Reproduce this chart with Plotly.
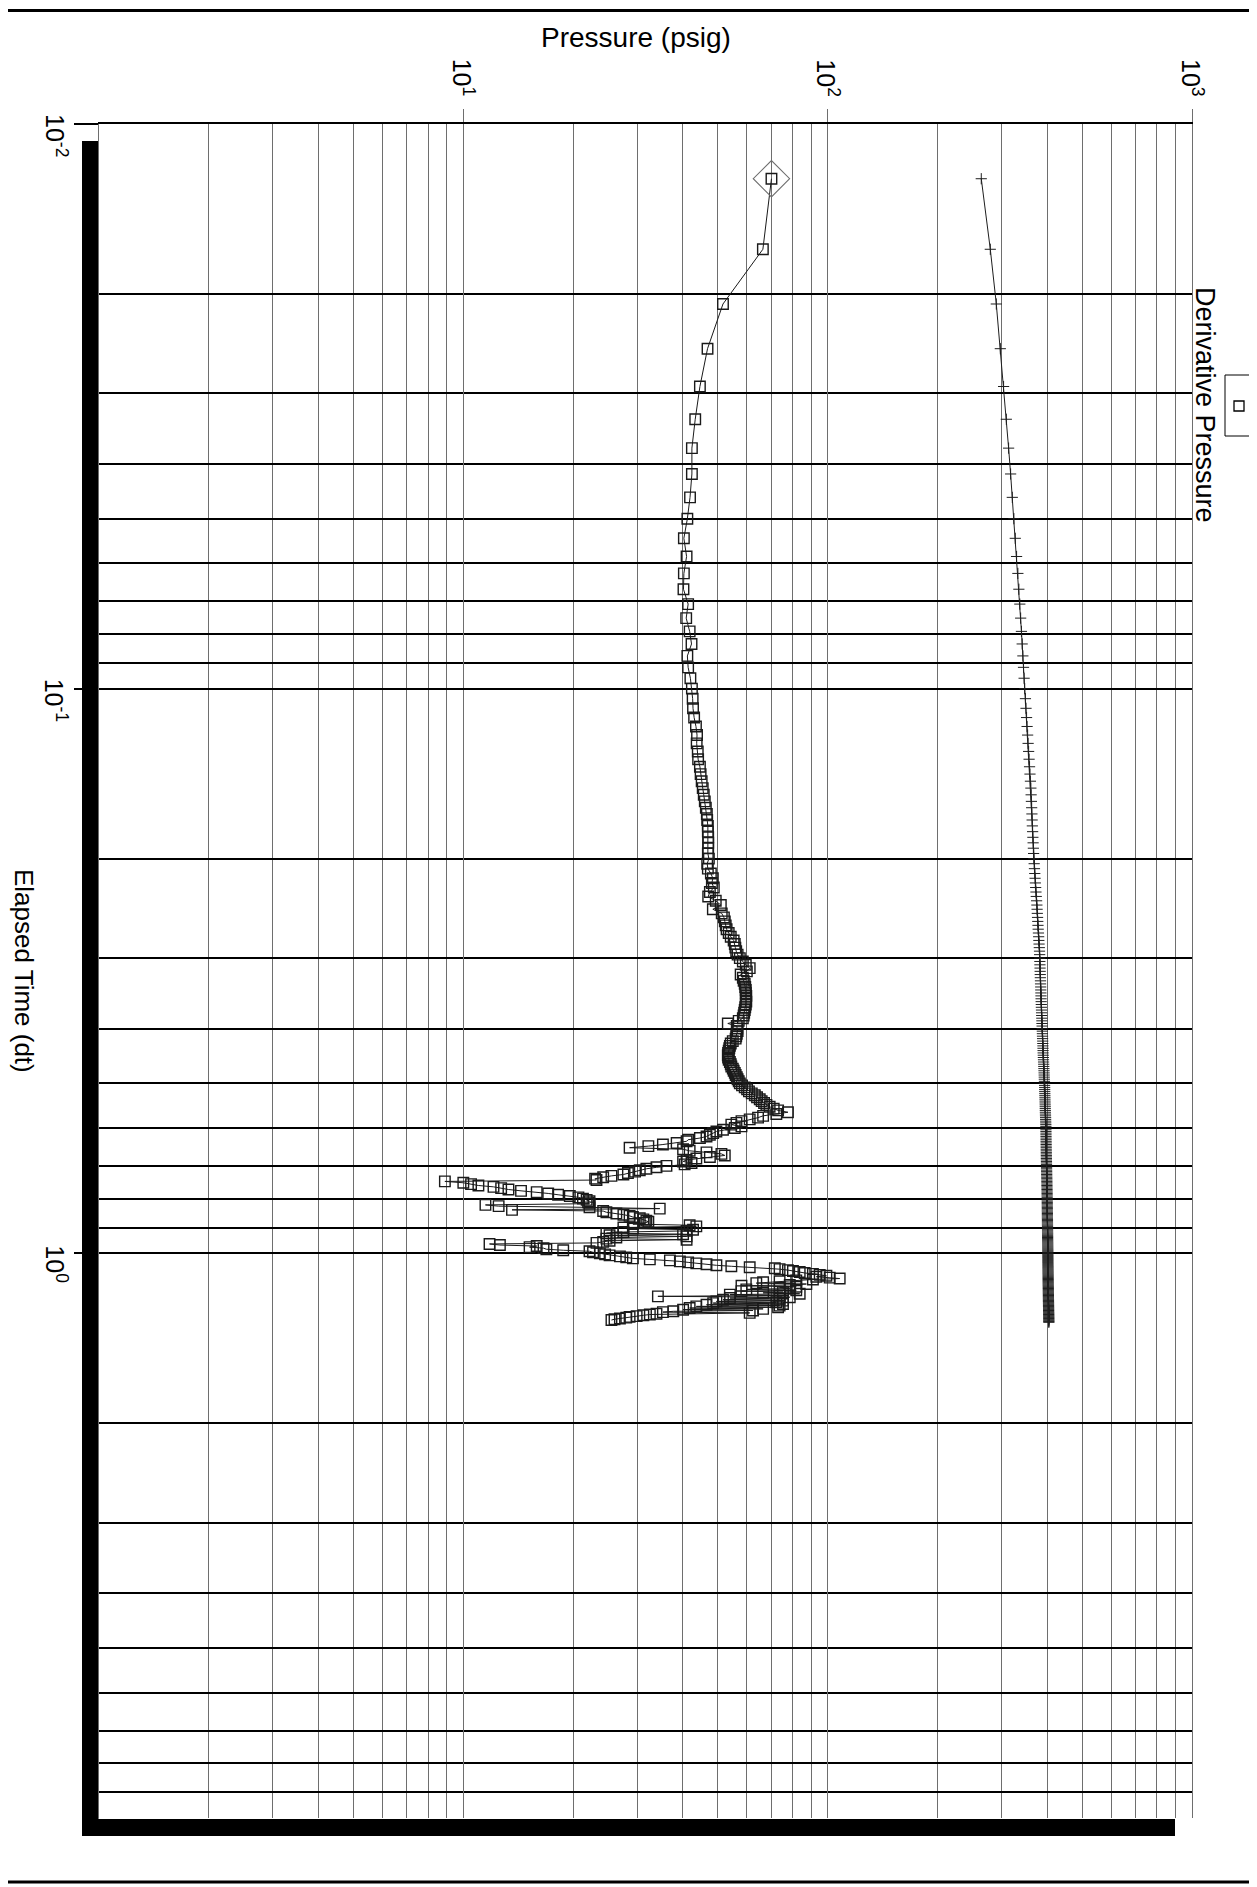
import math
import plotly.graph_objects as go

# ---------------- data ----------------
# elapsed time of each sample, in seconds
elapsed_s = [
    45, 60, 75, 90, 105, 120, 135, 150, 165, 180, 195, 210, 225, 240, 255, 270, 285, 300, 315, 330,
    345, 360, 375, 390, 405, 420, 435, 450, 465, 480, 495, 510, 525, 540, 555, 570, 585, 600, 615, 630,
    645, 660, 675, 690, 705, 720, 735, 750, 765, 780, 795, 810, 825, 840, 855, 870, 885, 900, 915, 930,
    945, 960, 975, 990, 1005, 1020, 1035, 1050, 1065, 1080, 1095, 1110, 1125, 1140, 1155, 1170, 1185, 1200, 1215, 1230,
    1245, 1260, 1275, 1290, 1305, 1320, 1335, 1350, 1365, 1380, 1395, 1410, 1425, 1440, 1455, 1470, 1485, 1500, 1515, 1530,
    1545, 1560, 1575, 1590, 1605, 1620, 1635, 1650, 1665, 1680, 1695, 1710, 1725, 1740, 1755, 1770, 1785, 1800, 1815, 1830,
    1845, 1860, 1875, 1890, 1905, 1920, 1935, 1950, 1965, 1980, 1995, 2010, 2025, 2040, 2055, 2070, 2085, 2100, 2115, 2130,
    2145, 2160, 2175, 2190, 2205, 2220, 2235, 2250, 2265, 2280, 2295, 2310, 2325, 2340, 2355, 2370, 2385, 2400, 2415, 2430,
    2445, 2460, 2475, 2490, 2505, 2520, 2535, 2550, 2565, 2580, 2595, 2610, 2625, 2640, 2655, 2670, 2685, 2700, 2715, 2730,
    2745, 2760, 2775, 2790, 2805, 2820, 2835, 2850, 2865, 2880, 2895, 2910, 2925, 2940, 2955, 2970, 2985, 3000, 3015, 3030,
    3045, 3060, 3075, 3090, 3105, 3120, 3135, 3150, 3165, 3180, 3195, 3210, 3225, 3240, 3255, 3270, 3285, 3300, 3315, 3330,
    3345, 3360, 3375, 3390, 3405, 3420, 3435, 3450, 3465, 3480, 3495, 3510, 3525, 3540, 3555, 3570, 3585, 3600, 3615, 3630,
    3645, 3660, 3675, 3690, 3705, 3720, 3735, 3750, 3765, 3780, 3795, 3810, 3825, 3840, 3855, 3870, 3885, 3900, 3915, 3930,
    3945, 3960, 3975, 3990, 4005, 4020, 4035, 4050, 4065, 4080, 4095, 4110, 4125, 4140, 4155, 4170, 4185, 4200, 4215, 4230,
    4245, 4260, 4275, 4290, 4305, 4320, 4335, 4350, 4365, 4380, 4395, 4410, 4425, 4440, 4455, 4470, 4485, 4500, 4515, 4530,
    4545, 4560, 4575, 4590, 4605, 4620, 4635, 4650, 4665, 4680, 4695, 4710, 4725, 4740, 4755, 4770,
]

# derivative (psi), one value per sample from the start
derivative_psi = [
    70.1, 66.4, 51.6, 46.8, 44.6, 43.3, 42.4, 42.4, 41.9, 41.2, 40.3, 41.0, 40.3, 40.2, 41.4, 40.9, 41.8, 42.3, 41.2, 41.4,
    42.0, 42.4, 42.6, 42.7, 43.0, 43.5, 43.8, 43.7, 44.0, 44.1, 44.6, 44.8, 45.1, 45.4, 45.7, 46.0, 46.3, 46.6, 46.7, 46.9,
    46.9, 47.0, 47.0, 47.0, 46.9, 47.2, 46.7, 46.9, 47.8, 48.4, 48.1, 48.7, 47.5, 47.0, 49.3, 50.9, 48.4, 51.2, 51.9, 52.2,
    52.5, 52.8, 53.5, 54.2, 55.2, 55.6, 55.8, 56.1, 56.6, 57.4, 58.5, 59.6, 61.1, 60.0, 57.7, 58.5, 58.8, 59.2, 59.4, 59.6,
    59.6, 59.8, 59.6, 59.8, 59.6, 59.4, 59.2, 59.0, 58.8, 58.5, 57.0, 53.2, 56.3, 56.5, 56.6, 56.3, 56.1, 55.9, 54.9, 54.2,
    53.9, 53.7, 53.5, 53.3, 53.2, 53.3, 53.5, 53.9, 54.2, 54.4, 54.9, 55.2, 55.6, 55.9, 56.3, 56.6, 57.0, 57.4, 58.2, 59.2,
    60.1, 60.8, 61.9, 63.1, 64.0, 65.1, 65.9, 66.9, 67.9, 69.3, 71.1, 73.1, 77.8, 72.3, 66.5, 64.4, 61.1, 58.0, 56.2, 54.4,
    58.0, 55.6, 51.6, 49.5, 48.5, 47.5, 46.5, 44.6, 41.4, 41.0, 38.5, 35.3, 32.2, 28.6, 40.1, 41.8, 46.5, 51.1, 52.2, 47.5,
    43.6, 41.0, 40.1, 42.3, 40.5, 36.1, 33.9, 31.8, 30.5, 29.6, 28.3, 27.5, 25.5, 24.2, 23.0, 23.2, 8.9, 10.0, 10.5, 11.0,
    12.1, 12.7, 13.3, 14.4, 15.9, 17.1, 18.2, 19.6, 20.7, 21.3, 21.8, 22.2, 22.0, 22.2, 11.5, 12.5, 22.2, 34.6, 13.6, 24.2,
    24.7, 26.3, 27.5, 28.6, 29.2, 30.5, 31.2, 31.8, 32.2, 31.5, 29.2, 41.8, 43.6, 27.5, 29.2, 42.7, 41.0, 27.5, 24.7, 40.1,
    25.2, 41.0, 26.3, 24.7, 41.0, 25.2, 24.2, 23.2, 11.8, 12.6, 15.9, 15.2, 16.6, 16.9, 18.8, 22.2, 22.7, 23.7, 24.5, 25.2,
    26.9, 28.0, 29.2, 32.5, 36.9, 39.3, 41.4, 43.6, 46.5, 49.5, 54.4, 61.1, 71.6, 73.8, 77.8, 80.3, 83.8, 86.5, 91.1, 95.1,
    99.2, 93.1, 101.3, 107.9, 91.1, 82.0, 73.8, 66.5, 63.7, 87.4, 78.7, 58.0, 82.0, 73.8, 78.7, 59.8, 82.0, 58.0, 75.4, 66.5,
    83.8, 53.9, 73.8, 34.2, 78.7, 53.9, 73.8, 51.6, 75.4, 49.5, 72.3, 48.5, 75.4, 46.5, 73.8, 43.6, 73.1, 41.8, 66.5, 40.1,
    62.4, 37.7, 35.3, 61.1, 33.9, 32.5, 31.2, 29.9, 28.6, 28.0, 26.9, 26.0, 25.5,
]

# pressure (psig), one value per sample
pressure_psig = [
    264.0, 279.5, 290.3, 297.8, 304.0, 309.3, 313.8, 317.8, 321.2, 324.4, 327.3, 330.0, 332.7, 334.8, 336.8, 338.6, 340.3, 341.9, 343.4, 344.8,
    346.1, 347.4, 349.0, 350.3, 351.5, 352.7, 353.9, 355.0, 356.1, 357.2, 358.2, 359.2, 360.2, 361.2, 361.8, 362.4, 363.0, 363.6, 364.1, 364.6,
    365.2, 365.8, 366.4, 367.0, 367.5, 368.1, 368.8, 369.5, 370.2, 370.9, 371.6, 372.3, 373.0, 373.7, 374.5, 375.2, 375.7, 376.2, 376.8, 377.3,
    377.8, 378.3, 378.9, 379.4, 379.9, 380.4, 381.0, 381.5, 381.8, 382.0, 382.3, 382.5, 382.8, 383.0, 383.3, 383.5, 383.8, 384.0, 384.3, 384.5,
    384.8, 385.0, 385.3, 385.5, 385.8, 386.0, 386.3, 386.5, 386.8, 387.0, 387.3, 387.5, 387.8, 388.0, 388.3, 388.5, 388.8, 389.0, 389.3, 389.5,
    389.8, 390.0, 390.2, 390.4, 390.7, 390.9, 391.2, 391.4, 391.7, 391.9, 392.2, 392.4, 392.7, 392.9, 393.1, 393.3, 393.6, 393.8, 393.9, 394.1,
    394.2, 394.3, 394.5, 394.6, 394.8, 394.9, 395.1, 395.2, 395.4, 395.5, 395.6, 395.8, 395.9, 396.1, 396.2, 396.4, 396.5, 396.7, 396.8, 397.0,
    397.1, 397.2, 397.2, 397.3, 397.4, 397.4, 397.5, 397.6, 397.6, 397.7, 397.8, 397.8, 397.9, 398.0, 398.0, 398.1, 398.2, 398.2, 398.3, 398.4,
    398.4, 398.5, 398.6, 398.6, 398.7, 398.8, 398.9, 398.9, 399.0, 399.1, 399.2, 399.2, 399.3, 399.4, 399.5, 399.6, 399.6, 399.7, 399.8, 399.8,
    399.9, 400.0, 400.0, 400.1, 400.2, 400.2, 400.3, 400.4, 400.4, 400.5, 400.5, 400.6, 400.6, 400.6, 400.7, 400.7, 400.7, 400.8, 400.8, 400.8,
    400.9, 400.9, 400.9, 401.0, 401.0, 401.0, 401.1, 401.1, 401.1, 401.2, 401.2, 401.2, 401.3, 401.3, 401.3, 401.4, 401.4, 401.4, 401.5, 401.5,
    401.5, 401.6, 401.6, 401.6, 401.7, 401.7, 401.7, 401.8, 401.8, 401.8, 401.9, 401.9, 401.9, 402.0, 402.0, 402.0, 402.1, 402.1, 402.1, 402.2,
    402.2, 402.2, 402.3, 402.3, 402.3, 402.3, 402.3, 402.4, 402.4, 402.4, 402.5, 402.5, 402.5, 402.6, 402.6, 402.6, 402.7, 402.7, 402.7, 402.8,
    402.8, 402.8, 402.8, 402.8, 402.9, 402.9, 402.9, 403.0, 403.0, 403.0, 403.1, 403.1, 403.2, 403.2, 403.2, 403.3, 403.3, 403.3, 403.4, 403.4,
    403.4, 403.5, 403.5, 403.5, 403.6, 403.6, 403.6, 403.7, 403.7, 403.7, 403.8, 403.8, 403.8, 403.9, 403.9, 403.9, 404.0, 404.0, 404.0, 404.1,
    404.1, 404.1, 404.2, 404.3, 404.3, 404.3, 404.4, 404.4, 404.4, 404.5, 404.5, 404.5, 404.6, 404.6, 404.6, 404.7,
]

pressure_tickvals = [10, 100, 1000]
pressure_ticktext = ["10<sup>1</sup>", "10<sup>2</sup>", "10<sup>3</sup>"]
time_tickvals = [0.01, 0.1, 1]
time_ticktext = ["10<sup>-2</sup>", "10<sup>-1</sup>", "10<sup>0</sup>"]

x_title = "Pressure (psig)"
y_title = "Elapsed Time (dt)"
legend_text = "Derivative Pressure"

# ---------------- figure ----------------
PAGE_W, PAGE_H = 1257, 1887
BODY = 8                      # default page margin around the plot div
W, H = PAGE_W - BODY, PAGE_H - BODY
L, R, T, B = 99, 1192, 124, 1818  # plot area in page pixels


def px(xp):
    return (xp - L) / (R - L)


def py(yp):
    return (B - yp) / (B - T)


elapsed_h = [s / 3600.0 for s in elapsed_s]

fig = go.Figure()

fig.add_trace(go.Scatter(
    x=derivative_psi, y=elapsed_h[:len(derivative_psi)], mode="lines+markers",
    line=dict(color="#1a1a1a", width=1),
    marker=dict(symbol="square-open", size=10.5, color="#1a1a1a", line=dict(width=1.4)),
    name="Derivative", hoverinfo="skip",
))
fig.add_trace(go.Scatter(
    x=pressure_psig, y=elapsed_h[:len(pressure_psig)], mode="lines+markers",
    line=dict(color="#1e1e1e", width=1),
    marker=dict(symbol="cross-thin", size=8, color="#1e1e1e", line=dict(width=1, color="#1e1e1e")),
    name="Pressure", hoverinfo="skip",
))
fig.add_trace(go.Scatter(
    x=derivative_psi[:1], y=elapsed_h[:1], mode="markers",
    marker=dict(symbol="diamond-open", size=28, color="#6e6e6e", line=dict(width=1.1)),
    hoverinfo="skip",
))

p_grid = [m * 10 ** e for e in range(0, 3) for m in range(1, 10)] + [1000]
t_grid = [m * 10.0 ** e for e in range(-2, 1) for m in range(1, 10)] + [10]

font_family = "Liberation Sans, Arial, sans-serif"

fig.update_layout(
    width=W, height=H, autosize=False,
    margin=dict(l=L - BODY, r=PAGE_W - R, t=T - BODY, b=PAGE_H - B, pad=0),
    paper_bgcolor="white", plot_bgcolor="white", showlegend=False,
    font=dict(family=font_family, color="black"),
)

fig.update_xaxes(
    type="log", range=[0, 3], side="top",
    tickmode="array", tickvals=pressure_tickvals, showticklabels=False,
    ticks="outside", ticklen=13, tickcolor="#6e6e6e", tickwidth=1.2,
    showgrid=True, gridcolor="#6e6e6e", gridwidth=1.2,
    minor=dict(tickmode="array", tickvals=p_grid, showgrid=True,
               gridcolor="#6e6e6e", gridwidth=1.2, ticks=""),
    showline=True, linecolor="black", linewidth=2, zeroline=False,
)
fig.update_yaxes(
    type="log", range=[1, -2],
    tickmode="array", tickvals=time_tickvals, showticklabels=False,
    ticks="outside", ticklen=24, tickcolor="black", tickwidth=2,
    showgrid=True, gridcolor="black", gridwidth=1.8,
    minor=dict(tickmode="array", tickvals=t_grid, showgrid=True,
               gridcolor="black", gridwidth=1.8, ticks=""),
    showline=True, mirror=True, linecolor="#6e6e6e", linewidth=1.2, zeroline=False,
)

# rotated tick labels, placed through the axes' own scales
for v, txt in zip(pressure_tickvals, pressure_ticktext):
    fig.add_annotation(text=txt, xref="x", yref="paper", x=math.log10(v), y=py(78),
                       xanchor="center", yanchor="middle", showarrow=False, textangle=90,
                       font=dict(size=25, family=font_family, color="black"))
for v, txt in zip(time_tickvals, time_ticktext):
    fig.add_annotation(text=txt, xref="paper", yref="y", x=px(56), y=math.log10(v), yshift=-11,
                       xanchor="center", yanchor="middle", showarrow=False, textangle=90,
                       font=dict(size=25, family=font_family, color="black"))

shapes = [
    # drop shadow of the plot frame (left and bottom bars)
    dict(type="rect", xref="paper", yref="paper", x0=px(82), x1=px(98.5), y0=py(1836), y1=py(141),
         fillcolor="black", line=dict(width=0), layer="below"),
    dict(type="rect", xref="paper", yref="paper", x0=px(82), x1=px(1175), y0=py(1836), y1=py(1819),
         fillcolor="black", line=dict(width=0), layer="below"),
    # page rules top and bottom
    dict(type="line", xref="paper", yref="paper", x0=px(BODY), x1=px(PAGE_W), y0=py(10.5), y1=py(10.5),
         line=dict(color="black", width=3)),
    dict(type="line", xref="paper", yref="paper", x0=px(BODY), x1=px(PAGE_W), y0=py(1882), y1=py(1882),
         line=dict(color="black", width=3)),
    # legend box and symbol
    dict(type="rect", xref="paper", yref="paper", x0=px(1225), x1=px(1252), y0=py(436), y1=py(375),
         fillcolor="white", line=dict(color="black", width=1)),
    dict(type="rect", xref="paper", yref="paper", x0=px(1234), x1=px(1244), y0=py(411), y1=py(401),
         fillcolor="white", line=dict(color="black", width=1.3)),
]
fig.update_layout(shapes=shapes)

fig.add_annotation(text=x_title, xref="paper", yref="paper", x=px(636), y=py(37),
                   xanchor="center", yanchor="middle", showarrow=False,
                   font=dict(size=28, family=font_family, color="black"))
fig.add_annotation(text=y_title, xref="paper", yref="paper", x=px(24), y=py(971),
                   xanchor="center", yanchor="middle", showarrow=False, textangle=90,
                   font=dict(size=26, family=font_family, color="black"))
fig.add_annotation(text=legend_text, xref="paper", yref="paper", x=px(1205), y=py(405),
                   xanchor="center", yanchor="middle", showarrow=False, textangle=90,
                   font=dict(size=27, family=font_family, color="black"))

fig.write_html("out.html")
